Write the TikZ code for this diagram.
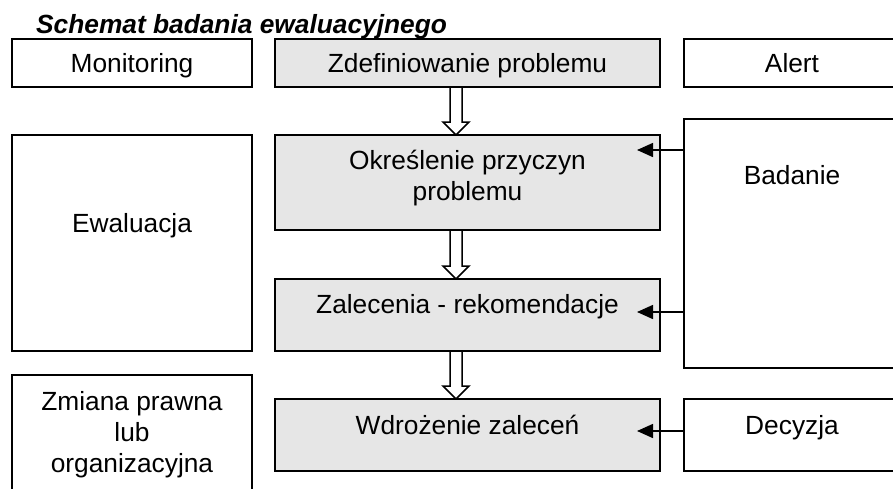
\documentclass[tikz,border=0pt]{standalone}
\usepackage{fontspec}
\setmainfont{Liberation Sans}
\usetikzlibrary{fit,calc,arrows.meta,backgrounds}
\definecolor{boxgray}{RGB}{230,230,230}
\newcommand\hollowarrow[2]{%
  \draw[hollow] ($(#1.south)+(-17.5,0)$) -- ($(#2.north)+(-17.5,-13)$) -- ($(#2.north)+(-24.5,-13)$)
    -- ($(#2.north)+(-11.5,0)$) -- ($(#2.north)+(1.5,-13)$) -- ($(#2.north)+(-5.5,-13)$)
    -- ($(#1.south)+(-5.5,0)$);}
\begin{document}
\begin{tikzpicture}[x=1pt,y=-1pt,
  box/.style={draw, line width=2pt, inner sep=0pt, outer sep=0pt},
  greybox/.style={box, fill=boxgray},
  txt/.style={inner sep=0pt, anchor=base, align=center, font=\fontsize{26.3}{30.7}\selectfont},
  arr/.style={line width=1.5pt, -{Triangle[length=16pt,width=14pt]}},
  hollow/.style={line width=1.5pt, fill=white, line join=miter}]
\useasboundingbox (0,0) rectangle (893,488);
\clip (0,0) rectangle (893,488);
% boxes
\node[box, fit={(12,39) (252,87)}] (mon) {};
\node[greybox, fit={(275,39) (660,87)}] (zdef) {};
\node[box, fit={(684,39) (905,87)}] (alert) {};
\node[box, fit={(12,135) (252,351)}] (ewal) {};
\node[greybox, fit={(275,135) (660,230)}] (okr) {};
\node[box, fit={(684,119) (905,368)}] (bad) {};
\node[greybox, fit={(275,279) (660,351)}] (zal) {};
\node[box, fit={(12,375) (252,500)}] (zmi) {};
\node[greybox, fit={(275,399) (660,471)}] (wdr) {};
\node[box, fit={(684,399) (905,471)}] (dec) {};
% texts
\node[txt, anchor=base west, font=\fontsize{26.3}{30.7}\selectfont\bfseries\itshape] (title) at (36,33) {Schemat badania ewaluacyjnego};
\node[txt] (tmon) at (132,72.5) {Monitoring};
\node[txt] (tzdef) at (467.5,72.5) {Zdefiniowanie problemu};
\node[txt] (talert) at (792,72.5) {Alert};
\node[txt] (tokr) at (467.5,200) {Określenie przyczyn\\problemu};
\node[txt] (tbad) at (792,184) {Badanie};
\node[txt] (tewal) at (132,232) {Ewaluacja};
\node[txt] (tzal) at (467.5,313) {Zalecenia - rekomendacje};
\node[txt] (tzmi) at (132,472) {Zmiana prawna\\lub\\organizacyjna};
\node[txt] (twdr) at (467.5,434) {Wdrożenie zaleceń};
\node[txt] (tdec) at (792,434) {Decyzja};
% connectors
\coordinate (t1) at (637,150);
\coordinate (t2) at (637,312);
\coordinate (t3) at (637,431);
\draw[arr] (bad.west |- t1) -- (t1);
\draw[arr] (bad.west |- t2) -- (t2);
\draw[arr] (dec.west |- t3) -- (t3);
\begin{pgfonlayer}{background}
\fill[white] (0,0) rectangle (893,488);
\hollowarrow{zdef}{okr}
\hollowarrow{okr}{zal}
\hollowarrow{zal}{wdr}
\end{pgfonlayer}
\end{tikzpicture}
\end{document}
